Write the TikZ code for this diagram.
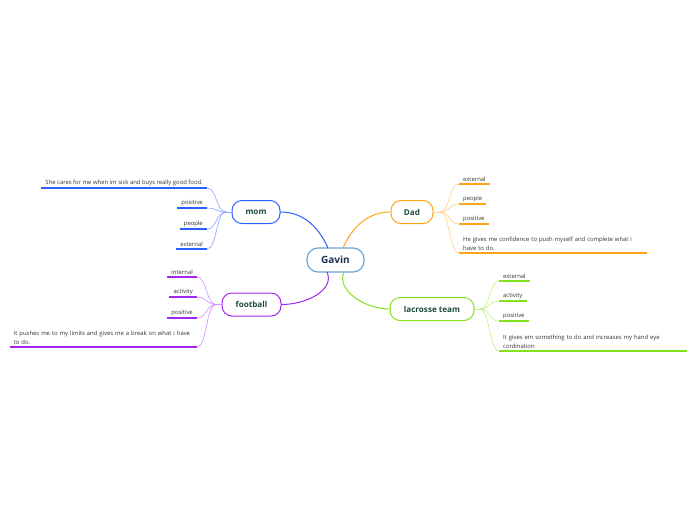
\documentclass[tikz,border=0pt]{standalone}
\usepackage{fontspec}
\setmainfont{Open Sans}
\definecolor{cmom}{HTML}{2B5FFF}
\definecolor{cmoml}{HTML}{86A3FF}
\definecolor{cdad}{HTML}{FFA31A}
\definecolor{cdadl}{HTML}{FFD080}
\definecolor{cfoot}{HTML}{A526F0}
\definecolor{cfootl}{HTML}{D38BFF}
\definecolor{clac}{HTML}{84E21E}
\definecolor{clacl}{HTML}{BDF37A}
\definecolor{cgav}{HTML}{6AA5DA}
\definecolor{ttopic}{HTML}{1E4A3C}
\definecolor{tgav}{HTML}{1F2F4F}
\definecolor{tleaf}{HTML}{333333}
\begin{document}
\begin{tikzpicture}[x=1pt,y=-1pt,
  topic/.style={draw=#1, line width=1pt, fill=white, rounded corners=10pt, minimum height=23pt, inner xsep=4pt, font=\fontsize{8.1}{10}\selectfont\bfseries, text=ttopic},
  leaf/.style={inner xsep=4pt, inner ysep=2.2pt, font=\fontsize{5.9}{9}\selectfont, text=tleaf, align=left},
  ul/.style={draw=#1, line width=2pt},
  main/.style={draw=#1, line width=1pt},
  twig/.style={draw=#1, line width=0.6pt}]
\useasboundingbox (0,0) rectangle (696,520);
% central
\node[draw=cgav, line width=1.2pt, fill=white, rounded corners=11pt, minimum width=57pt, minimum height=24pt, font=\fontsize{10}{12}\selectfont\bfseries, text=tgav] (gavin) at (335.5,260) {Gavin};
% topics
\node[topic=cmom, minimum width=48pt] (mom) at (256,212) {mom};
\node[topic=cfoot, minimum width=59pt] (foot) at (251.5,304.5) {football};
\node[topic=cdad, minimum width=42pt] (dad) at (412,212) {Dad};
\node[topic=clac, minimum width=84pt] (lac) at (432,309) {lacrosse team};
% main connectors
\coordinate (g1) at (328,248);
\coordinate (g2) at (343,248);
\coordinate (g3) at (327,272);
\coordinate (g4) at (344,272);
\draw[main=cmom] (mom.east) .. controls +(25,0) and +(-8,-18) .. (g1);
\draw[main=cdad] (dad.west) .. controls +(-25,0) and +(8,-18) .. (g2);
\draw[main=cfoot] (foot.east) .. controls +(25,0) and +(8,18) .. (g3);
\draw[main=clac] (lac.west) .. controls +(-25,0) and +(-8,18) .. (g4);
% mom leaves
\node[leaf, anchor=south east] (m1) at (207,188) {She cares for me when im sick and buys really good food.};
\node[leaf, anchor=south east] (m2) at (207,208) {positive};
\node[leaf, anchor=south east] (m3) at (207,229) {people};
\node[leaf, anchor=south east] (m4) at (207,249) {external};
\coordinate (mj) at (226,212);
\draw[twig=cmoml] (mom.west) -- (mj);
\draw[twig=cmoml] (mj) .. controls +(-10,0) and +(10,0) .. (m1.south east);
\draw[twig=cmoml] (mj) .. controls +(-10,0) and +(10,0) .. (m2.south east);
\draw[twig=cmoml] (mj) .. controls +(-10,0) and +(10,0) .. (m3.south east);
\draw[twig=cmoml] (mj) .. controls +(-10,0) and +(10,0) .. (m4.south east);
\draw[ul=cmom] (m1.south west) -- (m1.south east);
\draw[ul=cmom] (m2.south west) -- (m2.south east);
\draw[ul=cmom] (m3.south west) -- (m3.south east);
\draw[ul=cmom] (m4.south west) -- (m4.south east);
% football leaves
\node[leaf, anchor=south east] (f1) at (197,277) {internal};
\node[leaf, anchor=south east] (f2) at (197,297) {activity};
\node[leaf, anchor=south east] (f3) at (197,318) {positive};
\node[leaf, anchor=south east, text width=179pt] (f4) at (197,347) {It pushes me to my limits and gives me a break on what i have\\to do.};
\coordinate (fj) at (216,304.5);
\draw[twig=cfootl] (foot.west) -- (fj);
\draw[twig=cfootl] (fj) .. controls +(-10,0) and +(10,0) .. (f1.south east);
\draw[twig=cfootl] (fj) .. controls +(-10,0) and +(10,0) .. (f2.south east);
\draw[twig=cfootl] (fj) .. controls +(-10,0) and +(10,0) .. (f3.south east);
\draw[twig=cfootl] (fj) .. controls +(-10,0) and +(10,0) .. (f4.south east);
\draw[ul=cfoot] (f1.south west) -- (f1.south east);
\draw[ul=cfoot] (f2.south west) -- (f2.south east);
\draw[ul=cfoot] (f3.south west) -- (f3.south east);
\draw[ul=cfoot] (f4.south west) -- (f4.south east);
% dad leaves
\node[leaf, anchor=south west] (d1) at (459,184) {external};
\node[leaf, anchor=south west] (d2) at (459,204) {people};
\node[leaf, anchor=south west] (d3) at (459,224) {positive};
\node[leaf, anchor=south west, text width=180pt] (d4) at (459,253) {He gives me confidence to push myself and complete what i\\have to do.};
\coordinate (dj) at (440,212);
\draw[twig=cdadl] (dad.east) -- (dj);
\draw[twig=cdadl] (dj) .. controls +(10,0) and +(-10,0) .. (d1.south west);
\draw[twig=cdadl] (dj) .. controls +(10,0) and +(-10,0) .. (d2.south west);
\draw[twig=cdadl] (dj) .. controls +(10,0) and +(-10,0) .. (d3.south west);
\draw[twig=cdadl] (dj) .. controls +(10,0) and +(-10,0) .. (d4.south west);
\draw[ul=cdad] (d1.south west) -- (d1.south east);
\draw[ul=cdad] (d2.south west) -- (d2.south east);
\draw[ul=cdad] (d3.south west) -- (d3.south east);
\draw[ul=cdad] (d4.south west) -- (d4.south east);
% lacrosse leaves
\node[leaf, anchor=south west] (l1) at (499,281) {external};
\node[leaf, anchor=south west] (l2) at (499,301) {activity};
\node[leaf, anchor=south west] (l3) at (499,321) {positive};
\node[leaf, anchor=south west, text width=180pt] (l4) at (499,351) {It gives em something to do and increases my hand eye\\cordination};
\coordinate (lj) at (480,309);
\draw[twig=clacl] (lac.east) -- (lj);
\draw[twig=clacl] (lj) .. controls +(10,0) and +(-10,0) .. (l1.south west);
\draw[twig=clacl] (lj) .. controls +(10,0) and +(-10,0) .. (l2.south west);
\draw[twig=clacl] (lj) .. controls +(10,0) and +(-10,0) .. (l3.south west);
\draw[twig=clacl] (lj) .. controls +(10,0) and +(-10,0) .. (l4.south west);
\draw[ul=clac] (l1.south west) -- (l1.south east);
\draw[ul=clac] (l2.south west) -- (l2.south east);
\draw[ul=clac] (l3.south west) -- (l3.south east);
\draw[ul=clac] (l4.south west) -- (l4.south east);
\end{tikzpicture}
\end{document}
